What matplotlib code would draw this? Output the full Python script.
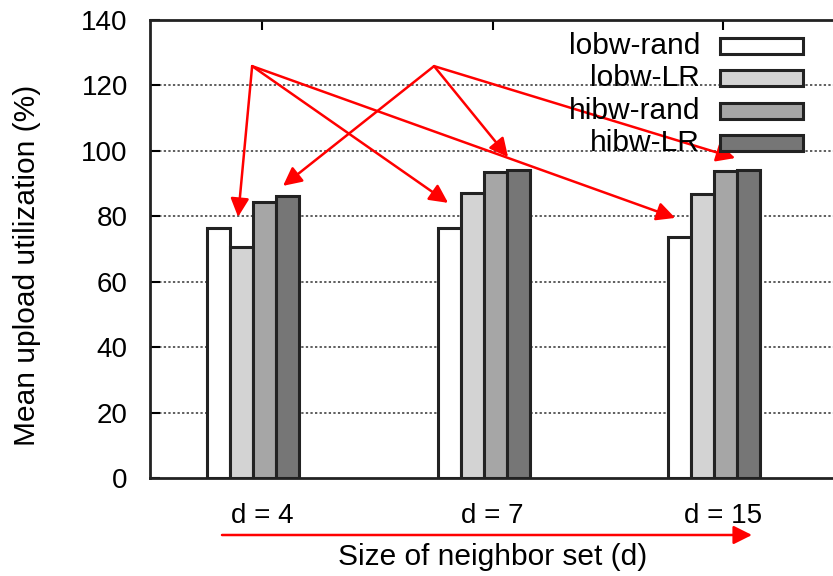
import numpy as np
import matplotlib
matplotlib.use('Agg')
import matplotlib.pyplot as plt

plt.rcParams['font.family'] = ['Liberation Sans', 'DejaVu Sans']

# data
groups = ['d = 4', 'd = 7', 'd = 15']
series = ['lobw-rand', 'lobw-LR', 'hibw-rand', 'hibw-LR']
lobw_rand = [76.5, 76.4, 73.7]
lobw_lr = [70.6, 87.1, 86.8]
hibw_rand = [84.4, 93.5, 93.9]
hibw_lr = [86.2, 94.2, 94.0]
values = [lobw_rand, lobw_lr, hibw_rand, hibw_lr]
colors = ['#ffffff', '#d3d3d3', '#a6a6a6', '#767676']

# red annotation arrows: (start, end) in data units
arrow_a = (-0.043, 125.9)
arrow_b = (0.746, 125.9)
targets_a = [(-0.104, 79.8), (0.807, 84.1), (1.792, 79.5)]
targets_b = [(0.091, 89.3), (1.067, 98.1), (2.052, 97.8)]

fig = plt.figure(figsize=(8.33, 5.76), dpi=100)
ax = fig.add_axes([150/833, 1-478/576, 700/833, 458/576])

x = np.arange(len(groups))
w = 0.1
for i, (vals, c) in enumerate(zip(values, colors)):
    ax.bar(x - 0.239 + i*w, vals, width=w, align='edge', color=c,
           edgecolor='#222222', linewidth=2.2, zorder=3)

ax.set_xlim(-0.486, 2.55)
ax.set_ylim(0, 140)
ax.set_yticks(range(0, 141, 20))
ax.set_xticks(x)
ax.set_xticklabels(groups)
ax.tick_params(direction='in', length=7, width=1.5, labelsize=20, top=True, right=True)
ax.tick_params(axis='y', pad=16)
ax.tick_params(axis='x', pad=18)
for s in ax.spines.values():
    s.set_linewidth(2)
    s.set_color('#222222')
for yv in range(20, 140, 20):
    ax.axhline(yv, color='#333333', linestyle=(0, (1.5, 1.5)), linewidth=1.1, zorder=1)

fig.text(27/833, 1-265/576, 'Mean upload utilization (%)', rotation=90,
         ha='center', va='center', fontsize=21.5)

# legend drawn gnuplot style
leg_y = [46, 78, 111, 143]
for lab, c, py in zip(series, colors, leg_y):
    fig.text(700/833, 1-py/576, lab, ha='right', va='center', fontsize=21.5)
    fig.patches.append(plt.Rectangle((720/833, 1-(py+8)/576), 83/833, 16/576,
                                     transform=fig.transFigure, facecolor=c,
                                     edgecolor='#222222', linewidth=2.2, zorder=5))

ap = dict(arrowstyle='-|>', color='red', lw=1.8, mutation_scale=28, shrinkA=0, shrinkB=0)
for t in targets_a:
    ax.annotate('', xy=t, xytext=arrow_a, arrowprops=ap, zorder=6)
for t in targets_b:
    ax.annotate('', xy=t, xytext=arrow_b, arrowprops=ap, zorder=6)

fig.patches.append(matplotlib.patches.FancyArrowPatch((222/833, 41/576), (752/833, 41/576),
                   transform=fig.transFigure, arrowstyle='-|>', mutation_scale=28,
                   color='red', lw=1.8, shrinkA=0, shrinkB=0))
fig.text(493/833, 1-557/576, 'Size of neighbor set (d)', ha='center', va='center', fontsize=21.5)

fig.savefig('out.png', dpi=100)
